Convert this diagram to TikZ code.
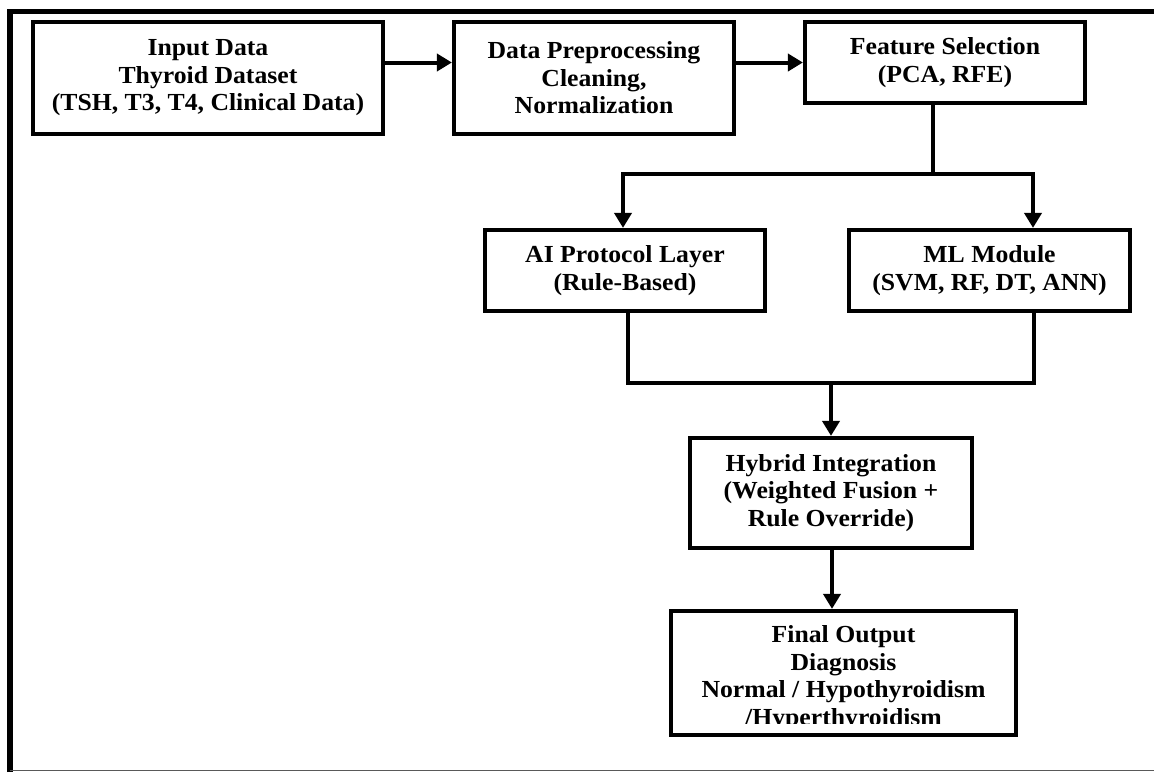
\documentclass[tikz,border=0pt]{standalone}
\usepackage{fontspec}
\setmainfont{Liberation Serif}[FakeStretch=1.05]
\usetikzlibrary{arrows.meta}
\begin{document}
\begin{tikzpicture}[x=1pt,y=-1pt,
  box/.style={draw,line width=4.2pt,inner sep=0pt,align=center,
    font=\bfseries\fontsize{24.5}{27.5}\selectfont},
  txt/.style={inner sep=0pt,align=center,font=\bfseries\fontsize{24.5}{27.5}\selectfont},
  conn/.style={line width=4pt},
  arr/.style={line width=4pt,-{Triangle[length=15pt,width=17pt]}}]
\useasboundingbox (0,0) rectangle (1154,772);
% outer frame
\draw[line width=5.5pt] (10,772) -- (10,11.5) -- (1154,11.5);
\draw[line width=1.2pt,black!65] (10,770.6) -- (1154,770.6);
% boxes
\node[box,minimum width=350pt,minimum height=112pt] (inp) at (208,78)
  {Input Data\\Thyroid Dataset\\(TSH, T3, T4, Clinical Data)};
\node[box,minimum width=280pt,minimum height=112pt] (pre) at (594,78)
  {Data Preprocessing\\Cleaning,\\Normalization};
\node[box,minimum width=280pt,minimum height=81pt] (fs) at (945,62.5)
  {Feature Selection\\(PCA, RFE)};
\node[box,minimum width=280pt,minimum height=81pt] (ai) at (625,270.5)
  {AI Protocol Layer\\(Rule-Based)};
\node[box,minimum width=281pt,minimum height=81pt] (ml) at (989.5,270.5)
  {ML Module\\(SVM, RF, DT, ANN)};
\node[box,minimum width=282pt,minimum height=110pt] (hy) at (831,493)
  {Hybrid Integration\\(Weighted Fusion +\\Rule Override)};
\node[box,minimum width=345pt,minimum height=124pt] (fin) at (843.5,673) {};
\begin{scope}
  \clip (671,612) rectangle (1016,723);
  \node[txt] (fintxt) at (843.5,678)
    {Final Output\\Diagnosis\\Normal / Hypothyroidism\\/Hyperthyroidism};
\end{scope}
% junction coordinates
\coordinate (s1) at (933,174);
\coordinate (sl) at (623,174);
\coordinate (sr) at (1033,174);
\coordinate (ml1) at (628,383);
\coordinate (mr1) at (1034,383);
\coordinate (mc) at (831,383);
% connectors
\draw[arr] (inp.east |- fs) -- (pre.west |- fs);
\draw[arr] (pre.east |- fs) -- (fs.west);
\draw[conn] (fs.south -| s1) -- (s1);
\draw[arr] (s1) -- (sr) -- (ml.north -| sr);
\draw[arr] (s1) -- (sl) -- (ai.north -| sl);
\draw[conn] (ai.south -| ml1) -- (ml1) -- (mr1) -- (ml.south -| mr1);
\draw[arr] (mc) -- (hy.north -| mc);
\draw[arr] (hy.south -| 832,0) -- (fin.north -| 832,0);
\end{tikzpicture}
\end{document}
